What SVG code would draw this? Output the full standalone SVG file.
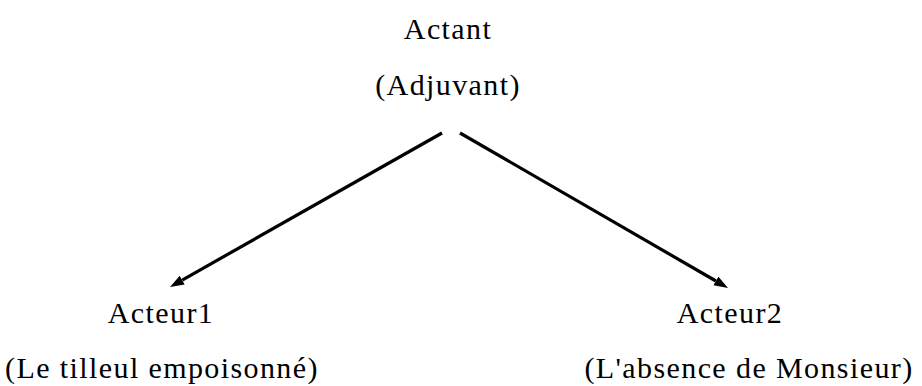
<svg xmlns="http://www.w3.org/2000/svg" width="922" height="386" viewBox="0 0 922 386">
<style>
.t{font-family:'Liberation Serif','Times New Roman','DejaVu Serif',serif;font-size:30px;fill:#000;text-anchor:middle;letter-spacing:1.4px}
.conn{stroke:#000;stroke-width:3.2;fill:none}
</style>
<defs>
<marker id="arr" markerUnits="userSpaceOnUse" markerWidth="15" markerHeight="11" refX="0" refY="5" orient="auto">
<path d="M0,0 L14,5 L0,10 z" fill="#000"/>
</marker>
</defs>
<rect width="922" height="386" fill="#fff"/>
<g id="actant">
<text class="t" x="448" y="39">Actant</text>
<text class="t" x="448" y="95">(Adjuvant)</text>
</g>
<g id="acteur1">
<text class="t" x="161" y="323">Acteur1</text>
<text class="t" x="162" y="378">(Le tilleul empoisonné)</text>
</g>
<g id="acteur2">
<text class="t" x="730" y="323">Acteur2</text>
<text class="t" x="749" y="378">(L'absence de Monsieur)</text>
</g>
<g id="connectors">
<line class="conn" x1="442" y1="133" x2="182.2" y2="280.1" marker-end="url(#arr)"/>
<line class="conn" x1="460" y1="133" x2="715.9" y2="281" marker-end="url(#arr)"/>
</g>
</svg>
